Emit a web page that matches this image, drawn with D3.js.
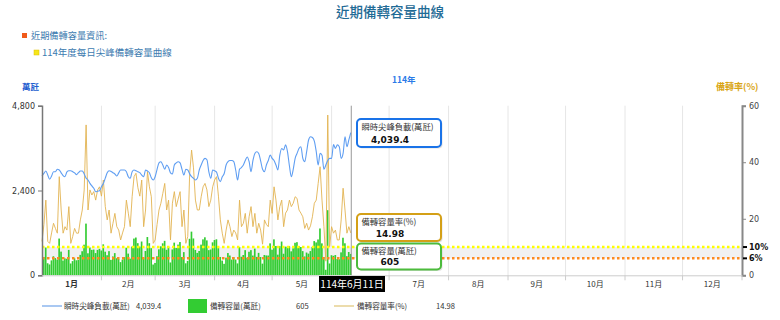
<!DOCTYPE html>
<html><head><meta charset="utf-8">
<script src="https://cdn.jsdelivr.net/npm/d3@7"></script>
<style>body{margin:0;background:#fff;} svg{display:block;}</style>
</head><body><svg id="c" width="780" height="320"></svg>
<script>
// ---------- DATA ----------
const startDate = "2025-01-01";
const monthLabels = ["1月","2月","3月","4月","5月","6月","7月","8月","9月","10月","11月","12月"];
const leftTicks = [0, 2400, 4800];
const rightTicks = [0, 20, 40, 60];
const refLines = [10, 6];
const refLabels = ["10%", "6%"];
// 瞬時尖峰負載(萬瓩)
const load = [2810,2886,2952,2838,2717,2810,2932,2932,3000,2980,2900,2820,2790,2930,2960,2960,2932,2900,2850,2904,
2952,2950,2867,2750,2697,2603,2530,2462,2366,2380,2394,2507,2600,2750,2900,2960,2940,2904,2867,2810,
2900,2980,2980,2980,2930,2790,2745,2932,2980,2960,2932,2904,2838,2790,2980,2950,2904,2760,2697,2790,
3000,3180,3215,3120,3000,3121,3050,2900,2867,3121,3180,3215,3180,3000,2838,3000,2980,2870,2790,2745,
2697,2745,2980,3121,3250,3310,3270,2930,2745,2980,2960,2920,2745,2650,2790,2880,3121,3215,3250,3250,
3215,2980,2697,3000,3050,3121,3250,3350,3215,2932,3250,3450,3498,3450,3240,3000,2932,3121,3250,3400,
3310,3250,3121,2980,3400,3590,3545,3690,3500,3100,2790,3000,3310,3450,3590,3640,3310,3215,3500,3830,
3922,3900,3800,3500,3121,3450,3400,3000,3121,3250,3310,3310,3700,3590,3690,3640,3310,3450,3922,3640,
3830,4039.4];
// 備轉容量(萬瓩)
const reserve = [337,519,785,341,307,422,539,487,447,1040,670,420,480,469,719,334,402,481,425,433,
579,681,866,1463,623,786,719,729,629,719,749,702,876,668,568,684,438,534,628,483,
464,373,447,513,779,614,472,815,1040,1069,909,813,956,480,688,1083,909,767,305,349,
540,735,820,905,975,721,811,363,731,924,773,868,941,516,656,339,408,1033,1236,1043,
717,634,688,868,1017,1076,988,712,730,933,998,1019,769,519,416,325,499,630,559,445,
514,447,337,798,525,574,712,499,666,712,559,756,521,635,518,330,575,562,559,904,
725,1017,830,584,826,955,610,812,809,825,678,765,920,938,829,801,685,534,644,613,
686,807,969,931,1014,1325,904,516,156,1843,334,569,551,574,461,455,649,1063,906,542,
659,605];
// 備轉容量率(%)
const rate = [12,18,26.6,12,11.3,15,18.4,16.6,14.9,34.9,23.1,14.9,17.2,16,24.3,11.3,13.7,16.6,14.9,14.9,
19.6,23.1,30.2,53.2,23.1,30.2,28.4,29.6,26.6,30.2,31.3,28,33.7,24.3,19.6,23.1,14.9,18.4,21.9,17.2,
16,12.5,15,17.2,26.6,22,17.2,27.8,34.9,36.1,31,28,33.7,17.2,23.1,36.7,31.3,27.8,11.3,12.5,
18,23.1,25.5,29,32.5,23.1,26.6,12.5,25.5,29.6,24.3,27,29.6,17.2,23.1,11.3,13.7,36,44.3,38,
26.6,23.1,23.1,27.8,31.3,32.5,30.2,24.3,26.6,31.3,33.7,34.9,28,19.6,14.9,11.3,16,19.6,17.2,13.7,
16,15,12.5,26.6,17.2,18.4,21.9,14.9,20.7,24.3,17.2,21.9,14.9,18.4,16,11,19.6,18,17.2,26.6,
21.9,31.3,26.6,19.6,24.3,26.6,17.2,22,23.1,26.6,24.3,25.5,27.8,27.2,23.1,22,20.7,16.6,18.4,16,
17.5,20.7,25.5,26.6,32.5,38.4,26.6,17.2,5,56.7,10.1,17.2,14.9,16,12.5,12.5,19.6,30.8,23.1,14.9,
17.2,14.98];
const seriesNames = ["瞬時尖峰負載(萬瓩)", "備轉容量(萬瓩)", "備轉容量率(%)"];
const currentLabel = "114年6月11日";

// ---------- CHART ----------
const svg = d3.select("#c");
const CJK = "'Noto Sans CJK TC','Noto Sans CJK SC',sans-serif";
const NUM = "'DejaVu Sans',Verdana,sans-serif";
const m = {left:42, right:742, top:105.7, bottom:275.3};
const t0 = d3.isoParse(startDate + "T00:00:00");
const y0 = t0.getFullYear();
const x = d3.scaleTime().domain([new Date(y0,0,1), new Date(y0+1,0,1)]).range([m.left, m.right]);
const yL = d3.scaleLinear().domain([0,4800]).range([m.bottom, m.top]);
const yR = d3.scaleLinear().domain([0,60]).range([m.bottom, m.top]);
const dates = load.map((_,i) => d3.timeDay.offset(new Date(y0,0,1), i));
const step = x(dates[1]) - x(dates[0]);
const last = load.length-1;
const curMonth = dates[last].getMonth();

// header
svg.append("text").attr("x",390).attr("y",17).attr("text-anchor","middle")
  .attr("font-family",CJK).attr("font-size",13.5).attr("font-weight",500).attr("fill","#1f6b96").text("近期備轉容量曲線");
svg.append("rect").attr("x",22).attr("y",33).attr("width",5).attr("height",5).attr("fill","#f05a1a");
svg.append("text").attr("x",31).attr("y",39).attr("font-family",CJK).attr("font-size",9.2).attr("fill","#3d7bb0").text("近期備轉容量資訊:");
svg.append("rect").attr("x",34).attr("y",50).attr("width",5).attr("height",5).attr("fill","#f5e61a").attr("stroke","#e0c000").attr("stroke-width",0.5);
svg.append("text").attr("x",42).attr("y",56).attr("font-family",CJK).attr("font-size",9.5).attr("fill","#3d7bb0").text("114年度每日尖峰備轉容量曲線");
svg.append("text").attr("x",22).attr("y",90).attr("font-family",CJK).attr("font-size",8.5).attr("font-weight",700).attr("fill","#1f5fd0").text("萬瓩");
svg.append("text").attr("x",392).attr("y",83).attr("font-family",CJK).attr("font-size",8.5).attr("font-weight",700).attr("fill","#2a7ae8").text("114年");
svg.append("text").attr("x",716).attr("y",90).attr("font-family",CJK).attr("font-size",9).attr("font-weight",700).attr("fill","#d9a514").text("備轉率(%)");

// grid
const monthStarts = d3.range(0,12).map(k => new Date(y0,k,1));
svg.append("g").selectAll("line").data(monthStarts.slice(1)).join("line")
  .attr("x1",d=>x(d)).attr("x2",d=>x(d)).attr("y1",m.top).attr("y2",m.bottom)
  .attr("stroke","#e6e6e6").attr("stroke-width",1);

// band between 6% and 10%
svg.append("rect").attr("x",m.left).attr("width",m.right-m.left)
  .attr("y",yR(refLines[0])).attr("height",yR(refLines[1])-yR(refLines[0])).attr("fill","#f1f1f1");

// clip
svg.append("clipPath").attr("id","clp").append("rect").attr("x",m.left).attr("y",m.top-10).attr("width",m.right-m.left).attr("height",m.bottom-m.top+10);

// bars
svg.append("g").attr("clip-path","url(#clp)").selectAll("rect").data(reserve).join("rect")
  .attr("x",(d,i)=>x(dates[i])-step/2).attr("width",step-0.25)
  .attr("y",d=>yL(d)).attr("height",d=>yL(0)-yL(d)).attr("fill","#33cc33");

// dotted reference lines
svg.append("line").attr("x1",m.left).attr("x2",m.right).attr("y1",yR(10)).attr("y2",yR(10))
  .attr("stroke","#ffff00").attr("stroke-width",2.5).attr("stroke-dasharray","2.5,2.5");
svg.append("line").attr("x1",m.left).attr("x2",m.right).attr("y1",yR(6)).attr("y2",yR(6))
  .attr("stroke","#ff8a1e").attr("stroke-width",2.5).attr("stroke-dasharray","2.5,2.5");

// rate line
svg.append("path").datum(rate).attr("fill","none").attr("stroke","#e2b452").attr("stroke-width",1).attr("stroke-opacity",0.9)
  .attr("d", d3.line().x((d,i)=>x(dates[i])).y(d=>yR(d)));
// load line
svg.append("path").datum(load).attr("fill","none").attr("stroke","#5f9ef2").attr("stroke-width",1.1)
  .attr("d", d3.line().x((d,i)=>x(dates[i])).y(d=>yL(d)).curve(d3.curveMonotoneX));

// cursor line
svg.append("line").attr("x1",x(dates[last])+0.5).attr("x2",x(dates[last])+0.5).attr("y1",m.top).attr("y2",m.bottom)
  .attr("stroke","#999").attr("stroke-width",1);

// left axis
const gL = svg.append("g").attr("transform",`translate(${m.left},0)`)
  .call(d3.axisLeft(yL).tickValues(leftTicks).tickFormat(d3.format(",")).tickSize(4).tickSizeOuter(4));
gL.select(".domain").attr("stroke","#777").attr("stroke-width",1.5);
gL.selectAll(".tick line").attr("stroke","#777");
gL.selectAll("text").attr("font-family",NUM).attr("font-size",8).attr("fill","#333");

// right axis
const gR = svg.append("g").attr("transform",`translate(${m.right},0)`)
  .call(d3.axisRight(yR).tickValues(rightTicks).tickSize(4).tickSizeOuter(4));
gR.select(".domain").attr("stroke","#888").attr("stroke-width",2);
gR.selectAll(".tick line").attr("stroke","#888");
gR.selectAll("text").attr("font-family",NUM).attr("font-size",8).attr("fill","#444");
const gRef = svg.append("g").selectAll("g").data(refLines).join("g").attr("transform",d=>`translate(${m.right},${yR(d)})`);
gRef.append("line").attr("x1",1).attr("x2",5).attr("stroke","#000").attr("stroke-width",2);
gRef.append("text").attr("x",7).attr("dy","0.35em").attr("font-family",NUM).attr("font-size",8).attr("font-weight",700).attr("fill","#111").text((d,i)=>refLabels[i]);

// bottom axis
svg.append("line").attr("x1",m.left).attr("x2",m.right).attr("y1",m.bottom+0.5).attr("y2",m.bottom+0.5).attr("stroke","#ccc");
svg.append("g").selectAll("line").data(monthStarts.slice(1).concat([new Date(y0+1,0,1)])).join("line")
  .attr("x1",d=>x(d)).attr("x2",d=>x(d)).attr("y1",m.bottom).attr("y2",m.bottom+5).attr("stroke","#ccc");
// month label of the current month is hidden under the date tooltip
svg.append("g").selectAll("text").data(monthLabels.map((d,i)=>({d,i})).filter(o=>o.i!==curMonth)).join("text")
  .attr("x",o=>(x(new Date(y0,o.i,1))+x(new Date(y0,o.i+1,1)))/2).attr("y",287)
  .attr("text-anchor","middle").attr("font-family",CJK).attr("font-size",8)
  .attr("font-weight",o=>o.i===0?700:400).attr("fill","#333").text(o=>o.d);

// tooltips
const tips = [
  {label:seriesNames[0], value:d3.format(",.1f")(load[last]), color:"#1a73e8", y:119, h:28},
  {label:seriesNames[2], value:d3.format(".2f")(rate[last]), color:"#d4a017", y:214, h:27},
  {label:seriesNames[1], value:d3.format(",")(reserve[last]), color:"#4cbb3c", y:243.5, h:26}
];
const tg = svg.append("g").selectAll("g").data(tips).join("g").attr("transform",d=>`translate(357,${d.y})`);
tg.append("rect").attr("x",1.5).attr("y",1.5).attr("width",84).attr("height",d=>d.h).attr("rx",4).attr("fill","rgba(0,0,0,0.12)");
tg.append("rect").attr("width",84).attr("height",d=>d.h).attr("rx",4).attr("fill","#fff").attr("stroke",d=>d.color).attr("stroke-width",2);
tg.append("text").attr("x",4.5).attr("y",10.5).attr("font-family",CJK).attr("font-size",8.3).attr("fill","#333").text(d=>d.label);
tg.append("text").attr("x",33).attr("y",d=>d.h-4.5).attr("text-anchor","middle").attr("font-family",NUM).attr("font-size",9).attr("font-weight",700).attr("fill","#111").text(d=>d.value);

// date tooltip at bottom
svg.append("rect").attr("x",319).attr("y",276).attr("width",66).attr("height",16).attr("fill","#000");
svg.append("text").attr("x",352).attr("y",288).attr("text-anchor","middle").attr("font-family",CJK).attr("font-size",10).attr("fill","#fff").text(currentLabel);

// legend
const ly = 306, lfs = 7.6;
svg.append("line").attr("x1",42).attr("x2",62).attr("y1",ly).attr("y2",ly).attr("stroke","#a9c8f2").attr("stroke-width",2);
svg.append("text").attr("x",64).attr("y",ly+3).attr("font-family",CJK).attr("font-size",lfs).attr("fill","#333").text(seriesNames[0]);
svg.append("text").attr("x",136).attr("y",ly+3).attr("font-family",CJK).attr("font-size",lfs).attr("fill","#333").text(d3.format(",.1f")(load[last]));
svg.append("rect").attr("x",188).attr("y",ly-7).attr("width",19).attr("height",14).attr("fill","#33cc33");
svg.append("text").attr("x",210).attr("y",ly+3).attr("font-family",CJK).attr("font-size",lfs).attr("fill","#333").text(seriesNames[1]);
svg.append("text").attr("x",296).attr("y",ly+3).attr("font-family",CJK).attr("font-size",lfs).attr("fill","#333").text(d3.format(",")(reserve[last]));
svg.append("line").attr("x1",334).attr("x2",354).attr("y1",ly).attr("y2",ly).attr("stroke","#ecdcac").attr("stroke-width",2);
svg.append("text").attr("x",357).attr("y",ly+3).attr("font-family",CJK).attr("font-size",lfs).attr("fill","#333").text(seriesNames[2]);
svg.append("text").attr("x",436).attr("y",ly+3).attr("font-family",CJK).attr("font-size",lfs).attr("fill","#333").text(d3.format(".2f")(rate[last]));
</script></body></html>
